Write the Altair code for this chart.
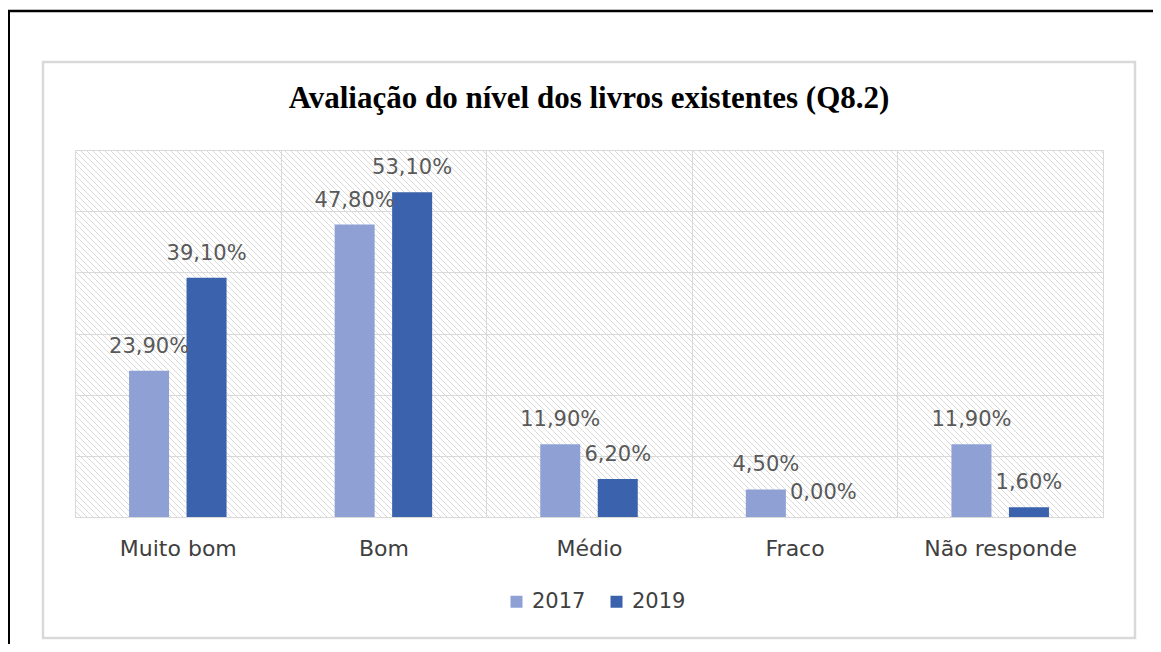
import altair as alt
import pandas as pd

categories = ["Muito bom", "Bom", "Médio", "Fraco", "Não responde"]
years = ["2017", "2019"]
values_2017 = [23.9, 47.8, 11.9, 4.5, 11.9]
values_2019 = [39.1, 53.1, 6.2, 0.0, 1.6]
title_text = "Avaliação do nível dos livros  existentes (Q8.2)"

rows = []
for c, v in zip(categories, values_2017):
    rows.append({"cat": c, "year": "2017", "value": v})
for c, v in zip(categories, values_2019):
    rows.append({"cat": c, "year": "2019", "value": v})
df = pd.DataFrame(rows)
df["label"] = df["value"].map(lambda v: f"{v:.2f}".replace(".", ",") + "%")

W, H = 1028, 367
COL_LIGHT = "#8FA1D4"
COL_DARK = "#3B62AD"
GRID = "#d9d9d9"
LABEL_FONT = "DejaVu Sans"

# decorative diagonal hatch for the plot background (pixel space)
hatch = pd.DataFrame({"hx0": [float(k) for k in range(-H, W + 6, 6)]})
hatch["hx1"] = hatch["hx0"] + H
hatch["hy0"] = 0.0
hatch["hy1"] = float(H)

one = pd.DataFrame({"a": [0]})

x_enc = alt.X(
    "cat:N",
    sort=categories,
    scale=alt.Scale(paddingInner=0, paddingOuter=0),
    axis=alt.Axis(
        title=None,
        labelAngle=0,
        labelFont=LABEL_FONT,
        labelFontSize=22,
        labelColor="#404040",
        labelPadding=21,
        ticks=False,
        tickSize=0,
        tickBand="extent",
        grid=True,
        gridColor=GRID,
        gridWidth=1,
        domainColor=GRID,
    ),
)
xoff = alt.XOffset(
    "year:N",
    sort=years,
    scale=alt.Scale(paddingInner=0.304, paddingOuter=0.94),
)
y_enc = alt.Y(
    "value:Q",
    scale=alt.Scale(domain=[0, 60], nice=False),
    axis=alt.Axis(
        title=None,
        labels=False,
        ticks=False,
        tickSize=0,
        domain=False,
        values=[0, 10, 20, 30, 40, 50, 60],
        grid=True,
        gridColor=GRID,
        gridWidth=1,
    ),
)

hatch_layer = alt.Chart(hatch).mark_rule(
    clip=True, stroke="#dadada", strokeWidth=1
).encode(
    x=alt.X("hx0:Q", scale=None, axis=None),
    x2="hx1:Q",
    y=alt.Y("hy0:Q", scale=None, axis=None),
    y2="hy1:Q",
)

bars = alt.Chart(df).mark_bar().encode(
    x=x_enc,
    xOffset=xoff,
    y=y_enc,
    color=alt.Color(
        "year:N",
        sort=years,
        scale=alt.Scale(domain=years, range=[COL_LIGHT, COL_DARK]),
        legend=alt.Legend(
            title=None,
            orient="none",
            direction="horizontal",
            legendX=431,
            legendY=441,
            padding=0,
            symbolType="square",
            symbolSize=144,
            symbolStrokeWidth=0,
            labelFont=LABEL_FONT,
            labelFontSize=21,
            labelColor="#404040",
            labelOffset=5,
            columnPadding=20,
        ),
    ),
)

labels = alt.Chart(df).mark_text(
    font=LABEL_FONT, fontSize=21, color="#595959", baseline="alphabetic", dy=-18
).encode(
    x=alt.X("cat:N", sort=categories),
    xOffset=alt.XOffset("year:N", sort=years),
    y=alt.Y("value:Q"),
    text="label:N",
)

title = alt.Chart(one).mark_text(
    font="Liberation Serif",
    fontSize=31,
    fontWeight="bold",
    color="#000000",
    baseline="alphabetic",
    align="center",
).encode(x=alt.value(W / 2), y=alt.value(-42), text=alt.value(title_text))

gray_frame = alt.Chart(one).mark_rect(
    filled=False, stroke=GRID, strokeWidth=2.5
).encode(
    x=alt.value(-32), x2=alt.value(1060), y=alt.value(-88), y2=alt.value(488)
)

black_left = alt.Chart(one).mark_rule(stroke="#000000", strokeWidth=3).encode(
    x=alt.value(-66.5), y=alt.value(-140), y2=alt.value(600)
)
black_top = alt.Chart(one).mark_rule(stroke="#000000", strokeWidth=2.5).encode(
    x=alt.value(-68), x2=alt.value(1090), y=alt.value(-139)
)

chart = alt.layer(
    hatch_layer, bars, labels, title, gray_frame, black_left, black_top
).properties(
    width=W,
    height=H,
    autosize=alt.AutoSizeParams(type="none"),
    padding={"left": 67, "top": 142, "right": 50, "bottom": 127},
    background="#ffffff",
).configure_view(
    stroke=GRID, strokeWidth=1
)

chart.save("out.html", embed_options={"renderer": "svg", "actions": False})
